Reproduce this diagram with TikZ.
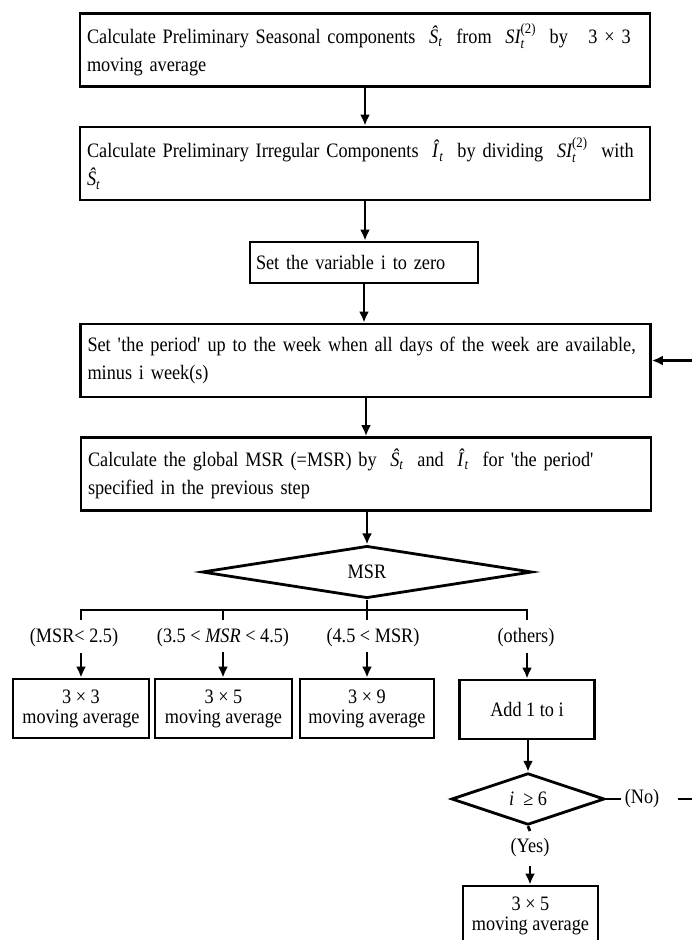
\documentclass[tikz,border=0pt]{standalone}
\usepackage{amsmath}
\usepackage{fontspec}
\setmainfont{Liberation Serif}[FakeStretch=0.89]
\usetikzlibrary{arrows.meta,shapes.geometric}
\newcommand{\Sh}{\textit{Ŝ}\textsubscript{\textit{t}}}
\newcommand{\Ih}{\textit{Î}\textsubscript{\textit{t}}}
\newcommand{\SIt}{$\textit{SI}_{\textit{t}}^{\text{(2)}}$}
\newcommand{\q}{\textquotesingle}
\begin{document}
\begin{tikzpicture}[x=1pt,y=-1pt,
  font=\fontsize{20.5}{28}\selectfont,
  line width=2.8pt,
  arr/.style={-{Latex[length=11pt,width=10pt]}},
  wbox/.style={draw, rectangle, minimum width=570pt, minimum height=73pt, text width=556pt, align=left, inner sep=7pt},
  sbox/.style={draw, rectangle, minimum width=136pt, minimum height=59pt, align=center, inner sep=2pt, font=\fontsize{20.5}{20}\selectfont},
  lab/.style={inner sep=2pt}]
\useasboundingbox (0,0) rectangle (691,940);
\node[wbox] (b1) at (365,50) {\mbox{Calculate Preliminary Seasonal components \ \Sh\ \ from \ \SIt\ \ by \ \ 3 × 3}\\moving average};
\node[wbox] (b2) at (365,163.5) {\mbox{Calculate Preliminary Irregular Components \ \Ih\ \ by dividing \ \SIt\ \ with}\\\Sh};
\node[draw, rectangle, minimum width=228pt, minimum height=41pt, text width=216pt, align=left, inner sep=6pt] (b3) at (364,262.5) {Set the variable i to zero};
\node[wbox] (b4) at (365.5,360.5) {\mbox{Set \q the period\q{} up to the week when all days of the week are available,}\\minus i week(s)};
\node[wbox] (b5) at (366,474) {\mbox{Calculate the global MSR (=MSR) by \ \Sh\ \ and \ \Ih\ \ for \q the period\q}\\specified in the previous step};
\node[draw, diamond, minimum width=330pt, minimum height=42pt, inner sep=0pt] (d1) at (367,572) {MSR};
\coordinate (busm) at (367,610);
\coordinate (bus1) at (81,610);
\coordinate (bus2) at (223,610);
\coordinate (bus4) at (527,610);
\coordinate (t1) at (81,620);
\coordinate (t2) at (223,620);
\coordinate (t3) at (367,620);
\coordinate (t4) at (527,620);
\node[lab] (l1) at (74,638) {(MSR< 2.5)};
\node[lab] (l2) at (223,638) {(3.5 < \textit{MSR} < 4.5)};
\node[lab] (l3) at (373,638) {(4.5 < MSR)};
\node[lab] (l4) at (526,638) {(others)};
\node[sbox] (bA) at (81,708.5) {3 × 3\\moving average};
\node[sbox, minimum width=137pt] (bB) at (223.5,708.5) {3 × 5\\moving average};
\node[sbox, minimum width=134pt] (bC) at (367,708.5) {3 × 9\\moving average};
\node[sbox, minimum width=135pt] (bD) at (527,709.5) {Add 1 to i};
\node[draw, diamond, minimum width=153pt, minimum height=44pt, inner sep=0pt] (d2) at (528,799) {\textit{i} \ ≥ 6};
\node[lab] (no) at (642,799) {(No)};
\node[lab] (yes) at (530,848) {(Yes)};
\node[sbox, minimum width=135pt] (bE) at (530.5,915.5) {3 × 5\\moving average};
\coordinate (nogap) at (678,799);
\coordinate (rt) at (710,799);
\coordinate (ys) at (530,831);
\coordinate (ya) at (530,866);
\draw[arr] (b1) -- (b2);
\draw[arr] (b2.south) -- (b2.south |- b3.north);
\draw[arr] (b3.south) -- (b3.south |- b4.north);
\draw[arr] (b4.south -| b5.north) -- (b5.north);
\draw[arr] (b5.south -| d1.north) -- (d1.north);
\draw (d1.south) -- (busm) -- (t3);
\draw (t1) -- (bus1) -- (bus4) -- (t4);
\draw (bus2) -- (t2);
\draw[arr] (bA.north |- 0,653) -- (bA.north);
\draw[arr] (bB.north -| t2) ++(0,-26) -- (bB.north -| t2);
\draw[arr] (bC.north -| t3) ++(0,-26) -- (bC.north -| t3);
\draw[arr] (bD.north -| t4) ++(0,-26) -- (bD.north -| t4);
\draw[arr] (bD.south -| d2.north) -- (d2.north);
\draw (d2.east) -- (no.west);
\draw[arr] (nogap) -- (rt) |- (b4.east);
\draw (d2.south) -- (ys);
\draw[arr] (ya) -- (bE.north -| ya);
\end{tikzpicture}
\end{document}
